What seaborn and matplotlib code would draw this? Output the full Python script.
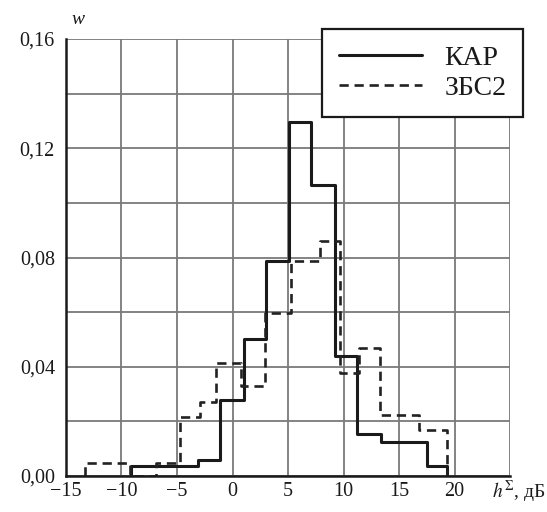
import matplotlib
matplotlib.use("Agg")
import matplotlib.pyplot as plt
import seaborn as sns
import pandas as pd
import numpy as np

# ---- data ----
kar_edges = [-9.1, -7.1, -5.1, -3.1, -1.1, 1.0, 3.0, 5.05, 7.05, 9.25, 11.2, 13.4, 15.4, 17.5, 19.3]
kar_w = [0.0037, 0.0037, 0.0037, 0.0058, 0.028, 0.050, 0.0788, 0.1297, 0.1066, 0.044, 0.0154, 0.0126, 0.0126, 0.0037]

zbs_edges = [-13.3, -9.2, -6.9, -4.7, -2.9, -1.5, 0.8, 2.9, 5.3, 7.9, 9.65, 11.4, 13.3, 16.8, 19.3]
zbs_w = [0.0047, 0.0, 0.0047, 0.0217, 0.027, 0.0415, 0.033, 0.0596, 0.0786, 0.086, 0.0376, 0.0467, 0.0223, 0.0167]

series_names = ["КАР", "ЗБС2"]
x_ticks = [-15, -10, -5, 0, 5, 10, 15, 20, 25]
x_ticklabels = ["\u221215", "\u221210", "\u22125", "0", "5", "10", "15", "20", ""]
y_ticks = [0.00, 0.02, 0.04, 0.06, 0.08, 0.10, 0.12, 0.14, 0.16]
y_ticklabels = ["0,00", "", "0,04", "", "0,08", "", "0,12", "", "0,16"]
x_label = r"$h^{\Sigma}$, дБ"
y_label = "w"


def step_frame(edges, w, name):
    xs = [edges[0]] + list(edges)
    ys = [0.0] + list(w) + [0.0]
    return pd.DataFrame({"h": xs, "w": ys, "series": name})


sns.set_style("whitegrid")
plt.rcParams["font.family"] = ["Liberation Serif", "DejaVu Serif"]
plt.rcParams["mathtext.fontset"] = "stix"

fig = plt.figure(figsize=(5.47, 5.12), dpi=100)
ax = fig.add_axes([66 / 547, 1 - 476 / 512, (510 - 66) / 547, (476 - 39) / 512])

df_k = step_frame(kar_edges, kar_w, series_names[0])
df_z = step_frame(zbs_edges, zbs_w, series_names[1])

sns.lineplot(data=df_k, x="h", y="w", ax=ax, estimator=None, sort=False,
             drawstyle="steps-post", color="#1a1a1a", linewidth=2.2,
             label=series_names[0])
sns.lineplot(data=df_z, x="h", y="w", ax=ax, estimator=None, sort=False,
             drawstyle="steps-post", color="#222222", linewidth=1.9,
             linestyle=(0, (3.5, 2.2)), label=series_names[1])

ax.set_xlim(-15, 25)
ax.set_ylim(0, 0.16)
ax.set_xticks(x_ticks)
ax.set_xticklabels(x_ticklabels)
ax.set_yticks(y_ticks)
ax.set_yticklabels(y_ticklabels)
ax.tick_params(axis="both", length=0, labelsize=14.5, colors="#1a1a1a")
ax.tick_params(axis="y", pad=8)
ax.tick_params(axis="x", pad=4)

ax.grid(True, color="#7a7a7a", linewidth=1.3)
ax.set_axisbelow(True)
for s in ["top", "right"]:
    ax.spines[s].set_visible(False)
for s in ["left", "bottom"]:
    ax.spines[s].set_visible(True)
    ax.spines[s].set_color("#1a1a1a")
    ax.spines[s].set_linewidth(1.8)

ax.set_xlabel(x_label, fontsize=14, color="#1a1a1a")
ax.xaxis.set_label_coords(1.02, -0.006)
ax.set_ylabel("")
ax.text(0.027, 1.045, y_label, transform=ax.transAxes, fontsize=14,
        style="italic", ha="center", va="center", color="#1a1a1a")

leg = ax.legend(loc="upper right", bbox_to_anchor=(523 / 547, 1 - 29 / 512),
                bbox_transform=fig.transFigure, fontsize=20, frameon=True,
                fancybox=False, framealpha=1, edgecolor="#1a1a1a",
                handlelength=3.0, handletextpad=0.8, labelspacing=0.15,
                borderpad=0.6, borderaxespad=0)
leg.get_frame().set_linewidth(1.6)
leg.set_zorder(10)
for t in leg.get_texts():
    t.set_color("#1a1a1a")

fig.savefig("out.png", dpi=100)
